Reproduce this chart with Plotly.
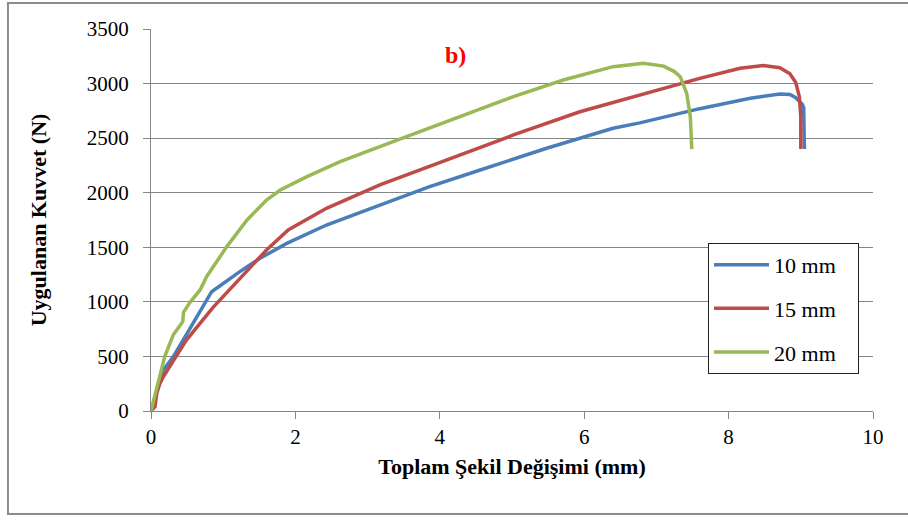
import plotly.graph_objects as go

# 10 mm
x10 = [0, 0.17, 0.31, 0.63, 0.84, 1.23, 1.51, 1.88, 2.43, 3.17, 3.86, 4.56, 5.48, 6.40, 6.77, 7.60, 8.30, 8.71, 8.85, 8.93, 9.02, 9.04, 9.05, 9.05]
y10 = [0, 376, 498, 849, 1093, 1277, 1399, 1536, 1704, 1887, 2055, 2208, 2407, 2591, 2640, 2770, 2865, 2905, 2900, 2870, 2810, 2780, 2600, 2400]

# 15 mm
x15 = [0, 0.055, 0.08, 0.125, 0.17, 0.40, 0.49, 0.86, 1.23, 1.60, 1.90, 2.43, 3.17, 4.10, 5.02, 5.94, 6.87, 7.60, 8.16, 8.48, 8.71, 8.85, 8.93, 8.98, 9.0, 9.0]
y15 = [0, 40, 162, 254, 314, 559, 650, 950, 1216, 1475, 1658, 1857, 2071, 2300, 2529, 2742, 2910, 3048, 3140, 3165, 3145, 3090, 3010, 2880, 2697, 2400]

# 20 mm
x20 = [0, 0.08, 0.19, 0.31, 0.40, 0.44, 0.45, 0.54, 0.68, 0.77, 1.05, 1.33, 1.60, 1.79, 2.16, 2.62, 3.17, 4.10, 5.02, 5.71, 6.40, 6.82, 7.10, 7.25, 7.33, 7.42, 7.47, 7.49]
y20 = [0, 223, 498, 700, 788, 818, 905, 995, 1109, 1231, 1506, 1750, 1933, 2025, 2147, 2284, 2422, 2651, 2880, 3033, 3155, 3185, 3160, 3110, 3063, 2910, 2697, 2400]

names = ["10 mm", "15 mm", "20 mm"]
colors = ["#4a7ebb", "#be4b48", "#98b954"]

xticks = [0, 2, 4, 6, 8, 10]
yticks = [0, 500, 1000, 1500, 2000, 2500, 3000, 3500]

pad = "\u00a0\u00a0\u00a0"  # invisible padding to widen the legend box

fig = go.Figure()
for (xs, ys), name, c in zip([(x10, y10), (x15, y15), (x20, y20)], names, colors):
    fig.add_trace(go.Scatter(x=xs, y=ys, mode="lines", name=name + pad,
                             line=dict(color=c, width=3.5), legendgroup=name))

serif = "Liberation Serif"
fig.update_layout(
    width=908, height=520,
    margin=dict(l=151, r=35, t=29, b=109),
    paper_bgcolor="white", plot_bgcolor="white",
    font=dict(family=serif, color="black", size=21),
    showlegend=True,
    legend=dict(x=0.7715, y=0.44, xanchor="left", yanchor="top",
                bordercolor="#222222", borderwidth=1, bgcolor="white",
                font=dict(family=serif, size=22, color="black"),
                tracegroupgap=12, itemwidth=55),
    xaxis=dict(range=[0, 10], tickvals=xticks, ticks="outside", ticklen=7,
               tickcolor="#868686", showline=True, linecolor="#868686",
               showgrid=False, zeroline=False,
               tickfont=dict(family=serif, size=21),
               title=dict(text="<b>Toplam Şekil Değişimi (mm)</b>",
                          font=dict(family=serif, size=22), standoff=10)),
    yaxis=dict(range=[0, 3500], tickvals=yticks, ticks="outside", ticklen=7,
               tickcolor="#868686", showline=True, linecolor="#868686",
               showgrid=True, gridcolor="#868686", gridwidth=1, zeroline=False,
               tickfont=dict(family=serif, size=21), ticklabelstandoff=10,
               title=dict(text="<b>Uygulanan Kuvvet (N)</b>",
                          font=dict(family=serif, size=22), standoff=34)),
    annotations=[dict(text="<b>b)</b>", x=0.4224, y=0.932, xref="paper", yref="paper",
                      xanchor="center", yanchor="middle", showarrow=False,
                      font=dict(family=serif, size=24, color="#ff0000"))],
    shapes=[dict(type="rect", xref="paper", yref="paper",
                 x0=-0.1981, x1=1.052, y0=-0.2696, y1=1.068,
                 line=dict(color="#8c8c8c", width=2), layer="below")],
)
fig.write_html("out.html")
